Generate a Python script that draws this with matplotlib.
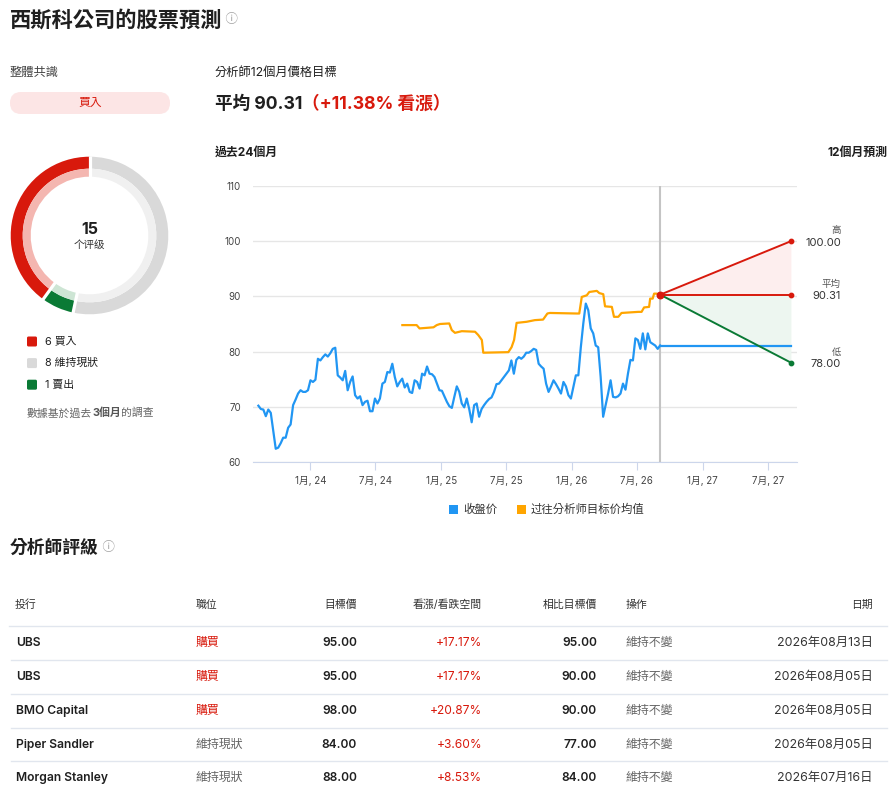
import matplotlib
matplotlib.use("Agg")
import matplotlib.pyplot as plt
from matplotlib.patches import Rectangle, FancyBboxPatch
import numpy as np
import pandas as pd

plt.rcParams['font.family'] = ['Inter', 'Noto Sans CJK TC', 'DejaVu Sans']

W, H = 896, 794

# ---- 数据 ----
rating_labels = ['維持現狀', '賣出', '買入']   # 从顶部顺时针
rating_counts = [8, 1, 6]
legend_labels = ['6 買入', '8 維持現狀', '1 賣出']

close_start = '2023-08-09'
today = '2026-09-04'
forecast_end = '2027-09-04'

# 每周收盘价
close_prices = [
    70.2, 69.6, 69.5, 68.3, 69.5, 68.9, 65.7, 62.4, 62.6, 63.4,
    64.4, 64.4, 66.2, 66.8, 70.3, 71.3, 72.4, 73.0, 72.7, 72.7,
    73.0, 74.8, 74.5, 74.9, 78.7, 78.4, 79.0, 79.5, 79.1, 79.7,
    80.5, 80.7, 75.7, 75.3, 74.8, 76.5, 73.0, 74.5, 75.5, 72.1,
    71.5, 71.9, 70.3, 70.9, 71.1, 69.2, 69.2, 71.5, 70.6, 71.5,
    74.2, 74.5, 76.3, 76.2, 77.8, 75.4,
    73.7, 74.5, 75.1, 73.5, 74.2, 72.7, 72.5, 74.8, 74.5, 73.3,
    76.0, 75.7, 77.3, 76.0, 75.9, 75.4, 74.2, 73.0, 72.9, 71.9,
    70.9, 70.1, 69.8, 71.8, 73.7, 72.7, 70.6, 69.9, 71.5, 69.6,
    67.2, 70.3, 70.6, 68.2, 69.6, 70.3, 70.9, 71.4, 71.7, 72.7,
    74.1, 74.2, 74.8, 75.4, 76.0, 76.6, 78.4, 76.0, 78.5, 79.0,
    78.7, 79.1, 79.8, 79.8,
    80.1, 80.5, 80.3, 77.8, 77.3, 76.9, 74.2, 72.7, 73.7, 74.8,
    74.1, 73.3, 72.4, 74.5, 73.7, 72.1, 71.5, 73.6, 75.7, 75.7,
    80.8, 85.1, 88.7, 87.5, 84.2, 83.3, 81.1, 80.8, 75.4, 68.2,
    70.3, 72.4, 74.8, 71.8, 71.7, 71.9, 72.4, 74.2, 73.1, 76.0,
    78.5, 78.4, 82.4, 82.1, 80.5, 83.3, 80.4, 83.3, 81.7, 81.4,
    81.1, 80.5, 81.1,
]

# 过往分析师目标价均值
target_dates = [
    '2024-09-14', '2024-10-24', '2024-11-01', '2024-12-10', '2024-12-19',
    '2024-12-28', '2025-01-23', '2025-01-30', '2025-02-08', '2025-02-27',
    '2025-04-05', '2025-04-14', '2025-04-24', '2025-04-28', '2025-07-07',
    '2025-07-16', '2025-07-23', '2025-07-30', '2025-08-27', '2025-09-19',
    '2025-10-12', '2025-10-24', '2025-10-31', '2026-01-14', '2026-01-21',
    '2026-01-28', '2026-02-11', '2026-02-18', '2026-03-11', '2026-03-18',
    '2026-03-29', '2026-04-03', '2026-04-22', '2026-04-28', '2026-05-10',
    '2026-05-19', '2026-07-05', '2026-07-14', '2026-07-21', '2026-08-04',
    '2026-08-07', '2026-08-14', '2026-08-18', '2026-08-25', '2026-09-04',
]
target_avg = [
    84.8, 84.8, 84.2, 84.4, 84.8,
    85.0, 85.1, 83.9, 83.4, 83.7,
    83.6, 83.0, 82.1, 79.8, 79.9,
    80.8, 82.1, 85.2, 85.4, 85.7,
    85.8, 86.9, 87.0, 86.9, 86.9,
    89.9, 90.2, 90.8, 91.0, 90.6,
    90.4, 88.2, 88.1, 86.3, 86.3,
    87.0, 87.2, 87.2, 88.0, 88.1,
    89.6, 89.6, 90.5, 90.5, 90.31,
]

price_high, price_avg, price_low = 100.00, 90.31, 78.00
upside_text = '（+11.38% 看漲）'

x_ticks = ['2024-01-01', '2024-07-01', '2025-01-01', '2025-07-01',
           '2026-01-01', '2026-07-01', '2027-01-01', '2027-07-01']
y_ticks = [60, 70, 80, 90, 100, 110]

# 分析师评级表
table_headers = ['投行', '職位', '目標價', '看漲/看跌空間', '相比目標價', '操作', '日期']
banks = ['UBS', 'UBS', 'BMO Capital', 'Piper Sandler', 'Morgan Stanley']
positions = ['購買', '購買', '購買', '維持現狀', '維持現狀']
targets = [95.00, 95.00, 98.00, 84.00, 88.00]
upsides = ['+17.17%', '+17.17%', '+20.87%', '+3.60%', '+8.53%']
prev_targets = [95.00, 90.00, 90.00, 77.00, 84.00]
actions = ['維持不變'] * 5
dates = ['2026年08月13日', '2026年08月05日', '2026年08月05日', '2026年08月05日', '2026年07月16日']

# ---- 颜色 ----
RED = '#d8190c'
RED_LIGHT = '#f4b6b0'
GREY = '#d9d9d9'
GREY_LIGHT = '#f0f0f0'
GREEN = '#0a7a35'
GREEN_LIGHT = '#cde5d4'
BLUE = '#2196f3'
ORANGE = '#ffa500'
DARK = '#1f1f1f'

fig = plt.figure(figsize=(W / 100, H / 100), dpi=100)
fig.patch.set_facecolor('white')

# 全图像素坐标覆盖层
bg = fig.add_axes([0, 0, 1, 1])
bg.set_xlim(0, W)
bg.set_ylim(H, 0)
bg.axis('off')
renderer = fig.canvas.get_renderer()


def text_run(x, y, parts):
    """依次排放几段文字"""
    for s, kw in parts:
        t = bg.text(x, y, s, va='center', ha='left', **kw)
        x += t.get_window_extent(renderer=renderer).width


# 标题
text_run(10, 20, [('西斯科公司的股票預測', dict(fontsize=15.3, fontweight='bold', color=DARK)),
                  (' ⓘ', dict(fontsize=9, color='#a0a0a0'))])

# 左侧: 整体共识
bg.text(10, 73, '整體共識', fontsize=8.8, color='#444444', va='center')
bg.add_patch(FancyBboxPatch((10, 92), 160, 22, boxstyle='round,pad=0,rounding_size=11',
                            fc='#fce5e5', ec='none'))
bg.text(90, 103, '買入', fontsize=8.5, color=RED, ha='center', va='center')

# 环形图
cx, cy, R = 89.5, 235.5, 80
dax = fig.add_axes([(cx - R) / W, 1 - (cy + R) / H, 2 * R / W, 2 * R / H])
dax.pie(rating_counts, colors=[GREY, GREEN, RED], startangle=90, counterclock=False,
        radius=0.985, wedgeprops=dict(width=0.15, linewidth=0))
dax.pie(rating_counts, colors=[GREY_LIGHT, GREEN_LIGHT, RED_LIGHT], startangle=90,
        counterclock=False, radius=0.835, wedgeprops=dict(width=0.10, linewidth=0))
# 分段之间的白色缝隙
bounds = 90 - 360 * np.cumsum([0] + rating_counts[:-1]) / sum(rating_counts)
for a in np.radians(bounds):
    dax.plot([0.6 * np.cos(a), 1.0 * np.cos(a)], [0.6 * np.sin(a), 1.0 * np.sin(a)],
             color='white', lw=2.3, solid_capstyle='butt')
dax.set_xlim(-1, 1)
dax.set_ylim(-1, 1)
dax.set_aspect('equal')
dax.axis('off')
bg.text(cx, 229, str(sum(rating_counts)), fontsize=11.5, fontweight='bold', color=DARK,
        ha='center', va='center')
bg.text(cx, 245, '个评级', fontsize=7.6, color='#333333', ha='center', va='center')

for i, (lab, col) in enumerate(zip(legend_labels, [RED, GREY, GREEN])):
    yy = 341.5 + i * 21.6
    bg.add_patch(FancyBboxPatch((27, yy - 5), 10, 10, boxstyle='round,pad=0,rounding_size=1.5',
                                fc=col, ec='none'))
    bg.text(45, yy, lab, fontsize=7.8, color=DARK, va='center')

text_run(27, 413, [('數據基於過去', dict(fontsize=7.8, color='#666666')),
                   ('3個月', dict(fontsize=7.8, color='#555555', fontweight='bold')),
                   ('的調查', dict(fontsize=7.8, color='#666666'))])

# 右侧: 价格目标
bg.text(215, 73, '分析師12個月價格目標', fontsize=8.8, color=DARK, va='center')
text_run(215, 104, [(f'平均 {price_avg:.2f}', dict(fontsize=12.7, fontweight='bold', color=DARK)),
                    (upside_text, dict(fontsize=12.7, fontweight='bold', color=RED))])
bg.text(215, 153, '過去24個月', fontsize=8.6, fontweight='bold', color=DARK, va='center')
bg.text(887, 153, '12個月預測', fontsize=8.6, fontweight='bold', color=DARK, va='center', ha='right')

# 折线图
ax = fig.add_axes([253 / W, 1 - 462 / H, (797 - 253) / W, (462 - 186) / H])
ax.set_facecolor('none')
close_dates = pd.date_range(close_start, today, periods=len(close_prices))
t0, t1 = pd.Timestamp(today), pd.Timestamp(forecast_end)

ax.fill_between([t0, t1], [price_avg, price_avg], [price_avg, price_high], color='#fdeeee', lw=0)
ax.fill_between([t0, t1], [price_avg, price_avg], [price_avg, price_low], color='#edf6f0', lw=0)
ax.axvline(t0, color='#c4c4c4', lw=1.5, zorder=2)
ax.plot(close_dates, close_prices, color=BLUE, lw=1.6, zorder=3)
ax.plot([t0, t1], [close_prices[-1]] * 2, color=BLUE, lw=1.6, zorder=3)
ax.plot(pd.to_datetime(target_dates), target_avg, color=ORANGE, lw=1.6, zorder=3)
ax.plot([t0, t1], [price_avg, price_high], color=RED, lw=1.4, zorder=4)
ax.plot([t0, t1], [price_avg, price_avg], color=RED, lw=1.4, zorder=4)
ax.plot([t0, t1], [price_avg, price_low], color=GREEN, lw=1.4, zorder=4)
ax.scatter([t1, t1], [price_high, price_avg], s=10, color=RED, zorder=5)
ax.scatter([t1], [price_low], s=10, color=GREEN, zorder=5)
ax.scatter([t0], [price_avg], s=22, color=RED, zorder=5)

for lab, val in [('高', price_high), ('平均', price_avg), ('低', price_low)]:
    ax.annotate(lab, xy=(t1, val), xytext=(36, 7.5), textcoords='offset points',
                ha='right', va='center', fontsize=6.8, color='#555555')
    ax.annotate(f'{val:.2f}', xy=(t1, val), xytext=(36, -1.3), textcoords='offset points',
                ha='right', va='center', fontsize=8, color='#333333')

ax.set_xlim(pd.Timestamp('2023-07-25'), pd.Timestamp('2027-09-21'))
ax.set_ylim(60, 110)
xt = pd.to_datetime(x_ticks)
ax.set_xticks(xt)
ax.set_xticklabels([f'{d.month}月, {d:%y}' for d in xt])
ax.set_yticks(y_ticks)
ax.grid(axis='y', color='#e6e6e6', lw=1)
ax.set_axisbelow(True)
for s in ['top', 'right', 'left']:
    ax.spines[s].set_visible(False)
ax.spines['bottom'].set_color('#ccd6eb')
ax.tick_params(axis='x', length=6, color='#ccd6eb', labelsize=7, labelcolor='#444444', pad=4)
ax.tick_params(axis='y', length=0, labelsize=7, labelcolor='#444444', pad=8.5)

# 图例
for (lab, col), lx in zip([('收盤价', BLUE), ('过往分析师目标价均值', ORANGE)], [449, 517]):
    bg.add_patch(Rectangle((lx, 504.5), 9, 9, fc=col, ec='none'))
    bg.text(lx + 14, 509, lab, fontsize=8.2, color='#333333', va='center')

# 分析师评级
text_run(10, 548, [('分析師評級', dict(fontsize=12.8, fontweight='bold', color=DARK)),
                   (' ⓘ', dict(fontsize=9, color='#a0a0a0'))])

col_x = [15, 196, 357, 482, 597, 626, 873]
col_ha = ['left', 'left', 'right', 'right', 'right', 'left', 'right']
for h, x, ha in zip(table_headers, col_x, col_ha):
    bg.text(x, 605, h, fontsize=7.8, color='#333333', ha=ha, va='center')
bg.plot([9, 887], [626, 626], color='#e1e6ee', lw=1)

row_y = [643, 677, 711, 745, 778]
for i, y in enumerate(row_y):
    if i > 0:
        bg.plot([11, 887], [y - 17, y - 17], color='#e1e6ee', lw=1)
    bg.text(col_x[0] + 1, y, banks[i], fontsize=8.7, fontweight='semibold', color=DARK,
            ha='left', va='center')
    pos_col = RED if positions[i] == '購買' else '#666666'
    bg.text(col_x[1], y, positions[i], fontsize=8.6, color=pos_col, ha='left', va='center')
    bg.text(col_x[2], y, f'{targets[i]:.2f}', fontsize=8.6, fontweight='semibold', color=DARK,
            ha='right', va='center')
    bg.text(col_x[3], y, upsides[i], fontsize=8.6, color=RED, ha='right', va='center')
    bg.text(col_x[4], y, f'{prev_targets[i]:.2f}', fontsize=8.6, fontweight='semibold', color=DARK,
            ha='right', va='center')
    bg.text(col_x[5], y, actions[i], fontsize=8.6, color='#666666', ha='left', va='center')
    bg.text(col_x[6], y, dates[i], fontsize=8.9, color='#333333', ha='right', va='center')

fig.savefig('out.png', dpi=100, facecolor='white')
